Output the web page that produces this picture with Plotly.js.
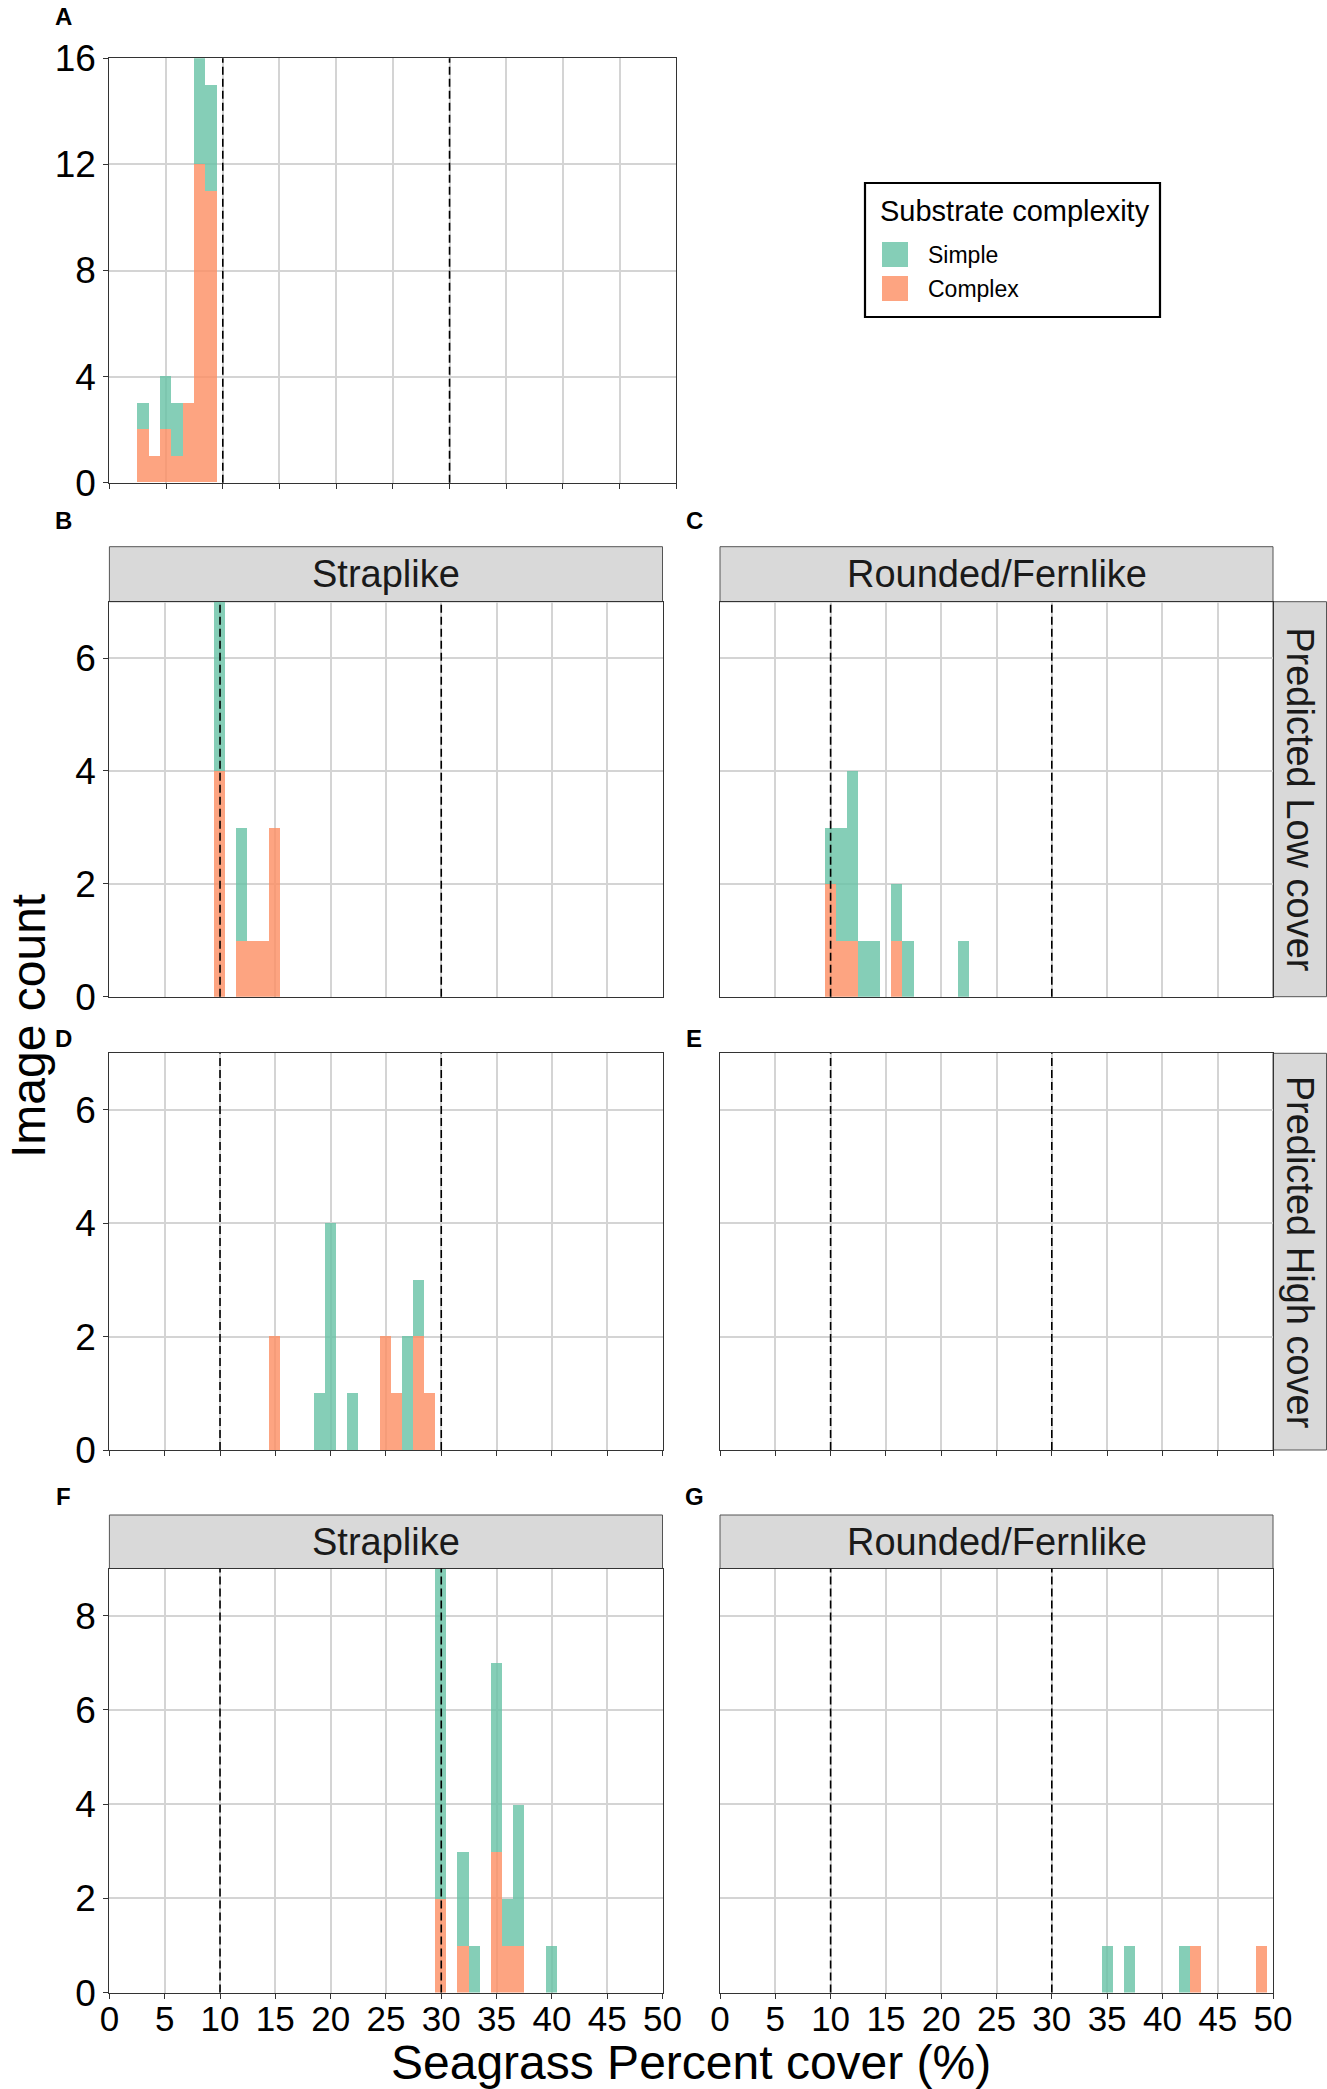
<!DOCTYPE html>
<html>
<head>
<meta charset="utf-8">
<script src="https://cdn.plot.ly/plotly-3.0.1.min.js"></script>
<style>html,body{margin:0;padding:0;background:#fff;}#chart{width:1327px;height:2089px;}</style>
</head>
<body>
<div id="chart"></div>
<script>
// ---- data (bin centres, counts per substrate) ----
const aBins = [3, 4, 5, 6, 7, 8, 9];
const aSimple = [1, 0, 2, 2, 0, 4, 4];
const aComplex = [2, 1, 2, 1, 3, 12, 11];

const bBins = [10, 12, 13, 14, 15];
const bSimple = [3, 2, 0, 0, 0];
const bComplex = [4, 1, 1, 1, 3];

const cBins = [10, 11, 12, 13, 14, 16, 17, 22];
const cSimple = [1, 2, 3, 1, 1, 1, 1, 1];
const cComplex = [2, 1, 1, 0, 0, 1, 0, 0];

const dBins = [15, 19, 20, 22, 25, 26, 27, 28, 29];
const dSimple = [0, 1, 4, 1, 0, 0, 2, 1, 0];
const dComplex = [2, 0, 0, 0, 2, 1, 0, 2, 1];

const eBins = [];
const eSimple = [];
const eComplex = [];

const fBins = [30, 32, 33, 35, 36, 37, 40];
const fSimple = [7, 2, 1, 4, 1, 3, 1];
const fComplex = [2, 1, 0, 3, 1, 1, 0];

const gBins = [35, 37, 42, 43, 49];
const gSimple = [1, 1, 1, 0, 0];
const gComplex = [0, 0, 0, 1, 1];

const xTicks = [0, 5, 10, 15, 20, 25, 30, 35, 40, 45, 50];
const thresholds = [10, 30];
const groupNames = ["Simple", "Complex"];
const stripTop = ["Straplike", "Rounded/Fernlike"];
const stripRight = ["Predicted Low cover", "Predicted High cover"];
const panelLetters = ["A", "B", "C", "D", "E", "F", "G"];
const legendTitle = "Substrate complexity";
const xTitle = "Seagrass Percent cover (%)";
const yTitle = "Image count";

// ---- styling ----
const W = 1327, H = 2089;
const FONT = "Liberation Sans, Arial, Helvetica, sans-serif";
const colSimple = "rgba(102,194,165,0.8)";
const colComplex = "rgba(252,141,98,0.8)";
const px = v => v / W;
const py = v => 1 - v / H;

const colL = [109.4, 662.5], colR = [720, 1273];
const panels = [
  {bins: aBins, s: aSimple, c: aComplex, x: [109.4, 676.3], y: [58.3, 482.7], yr: 16, dt: 4, yl: true, xt: true, xl: false},
  {bins: bBins, s: bSimple, c: bComplex, x: colL, y: [601.7, 996.7], yr: 7, dt: 2, yl: true, xt: false, xl: false},
  {bins: cBins, s: cSimple, c: cComplex, x: colR, y: [601.7, 996.7], yr: 7, dt: 2, yl: false, xt: false, xl: false},
  {bins: dBins, s: dSimple, c: dComplex, x: colL, y: [1053.3, 1450], yr: 7, dt: 2, yl: true, xt: true, xl: false},
  {bins: eBins, s: eSimple, c: eComplex, x: colR, y: [1053.3, 1450], yr: 7, dt: 2, yl: false, xt: true, xl: false},
  {bins: fBins, s: fSimple, c: fComplex, x: colL, y: [1568.5, 1992.6], yr: 9, dt: 2, yl: true, xt: true, xl: true},
  {bins: gBins, s: gSimple, c: gComplex, x: colR, y: [1568.5, 1992.6], yr: 9, dt: 2, yl: false, xt: true, xl: true}
];

const traces = [];
const layout = {
  width: W, height: H,
  margin: {l: 0, r: 0, t: 0, b: 0},
  paper_bgcolor: "#fff", plot_bgcolor: "#fff",
  barmode: "stack", bargap: 0,
  showlegend: false,
  font: {family: FONT, color: "#000"},
  shapes: [], annotations: []
};

panels.forEach((p, i) => {
  const k = i === 0 ? "" : String(i + 1);
  const xa = "x" + k, ya = "y" + k;
  const bx = p.bins.length ? p.bins : [null];
  traces.push({type: "bar", x: bx, y: p.c.length ? p.c : [null], width: 1, name: groupNames[1],
    marker: {color: colComplex, line: {width: 0}}, xaxis: xa, yaxis: ya, hoverinfo: "x+y+name"});
  traces.push({type: "bar", x: bx, y: p.s.length ? p.s : [null], width: 1, name: groupNames[0],
    marker: {color: colSimple, line: {width: 0}}, xaxis: xa, yaxis: ya, hoverinfo: "x+y+name"});
  const yTicks = [];
  for (let v = 0; v <= p.yr; v += p.dt) yTicks.push(v);
  layout["xaxis" + k] = {
    domain: [px(p.x[0]), px(p.x[1])], anchor: ya, range: [0, 50],
    tickvals: xTicks, ticktext: xTicks.map(String), showticklabels: p.xl,
    ticks: p.xt ? "outside" : "", ticklen: 5, tickwidth: 1.2, tickcolor: "#333",
    ticklabelstandoff: -10,
    tickfont: {family: FONT, size: 35, color: "#000"},
    showgrid: true, gridcolor: "#d4d4d4", gridwidth: 1.5, zeroline: false,
    showline: true, mirror: true, linecolor: "#333", linewidth: 1.2, fixedrange: true
  };
  layout["yaxis" + k] = {
    domain: [py(p.y[1]), py(p.y[0])], anchor: xa, range: [0, p.yr],
    tickvals: yTicks, showticklabels: p.yl,
    ticks: p.yl ? "outside" : "", ticklen: 5, tickwidth: 1.2, tickcolor: "#333",
    tickfont: {family: FONT, size: 37, color: "#000"},
    showgrid: true, gridcolor: "#d4d4d4", gridwidth: 1.5, zeroline: false,
    showline: true, mirror: true, linecolor: "#333", linewidth: 1.2, fixedrange: true
  };
  thresholds.forEach(t => {
    layout.shapes.push({type: "line", xref: xa, yref: ya + " domain", x0: t, x1: t, y0: 0, y1: 1,
      line: {color: "#000", width: 1.6, dash: "8px,4px"}, layer: "above"});
  });
});

// top strips
[[546.7, 601.7], [1515, 1568.5]].forEach(r => {
  [colL, colR].forEach((c, j) => {
    layout.shapes.push({type: "rect", xref: "paper", yref: "paper",
      x0: px(c[0]), x1: px(c[1]), y0: py(r[1]), y1: py(r[0]),
      fillcolor: "#d9d9d9", line: {color: "#555", width: 1}, layer: "below"});
    layout.annotations.push({xref: "paper", yref: "paper", x: px((c[0] + c[1]) / 2), y: py((r[0] + r[1]) / 2),
      text: stripTop[j], showarrow: false, xanchor: "center", yanchor: "middle",
      font: {family: FONT, size: 38, color: "#1a1a1a"}});
  });
});
// right strips
[[601.7, 996.7], [1053.3, 1450]].forEach((r, j) => {
  layout.shapes.push({type: "rect", xref: "paper", yref: "paper",
    x0: px(1273), x1: px(1326.5), y0: py(r[1]), y1: py(r[0]),
    fillcolor: "#d9d9d9", line: {color: "#555", width: 1}, layer: "below"});
  layout.annotations.push({xref: "paper", yref: "paper", x: px(1300), y: py((r[0] + r[1]) / 2),
    text: stripRight[j], showarrow: false, textangle: 90, xanchor: "center", yanchor: "middle",
    font: {family: FONT, size: 38, color: "#1a1a1a"}});
});

// panel letters
const letterPos = [[63, 16], [63, 520], [694, 520], [63, 1038], [694, 1038], [63, 1497], [694, 1497]];
panelLetters.forEach((L, i) => {
  layout.annotations.push({xref: "paper", yref: "paper", x: px(letterPos[i][0]), y: py(letterPos[i][1]),
    text: "<b>" + L + "</b>", showarrow: false, xanchor: "center", yanchor: "middle",
    font: {family: FONT, size: 24, color: "#000"}});
});

// axis titles
layout.annotations.push({xref: "paper", yref: "paper", x: px(691), y: py(2062), text: xTitle,
  showarrow: false, xanchor: "center", yanchor: "middle", font: {family: FONT, size: 48, color: "#000"}});
layout.annotations.push({xref: "paper", yref: "paper", x: px(28), y: py(1026), text: yTitle, textangle: -90,
  showarrow: false, xanchor: "center", yanchor: "middle", font: {family: FONT, size: 48, color: "#000"}});

// legend (drawn)
layout.shapes.push({type: "rect", xref: "paper", yref: "paper", x0: px(865), x1: px(1160), y0: py(317), y1: py(183),
  fillcolor: "#fff", line: {color: "#000", width: 2.2}, layer: "below"});
layout.annotations.push({xref: "paper", yref: "paper", x: px(878), y: py(211), text: legendTitle,
  showarrow: false, xanchor: "left", yanchor: "middle", font: {family: FONT, size: 29, color: "#000"}});
[[colSimple, 242, groupNames[0]], [colComplex, 276, groupNames[1]]].forEach(it => {
  layout.shapes.push({type: "rect", xref: "paper", yref: "paper", x0: px(882), x1: px(908),
    y0: py(it[1] + 25), y1: py(it[1]), fillcolor: it[0], line: {width: 0}});
  layout.annotations.push({xref: "paper", yref: "paper", x: px(926), y: py(it[1] + 13), text: it[2],
    showarrow: false, xanchor: "left", yanchor: "middle", font: {family: FONT, size: 23, color: "#000"}});
});

Plotly.newPlot("chart", traces, layout, {displayModeBar: false, responsive: false});
</script>
</body>
</html>
